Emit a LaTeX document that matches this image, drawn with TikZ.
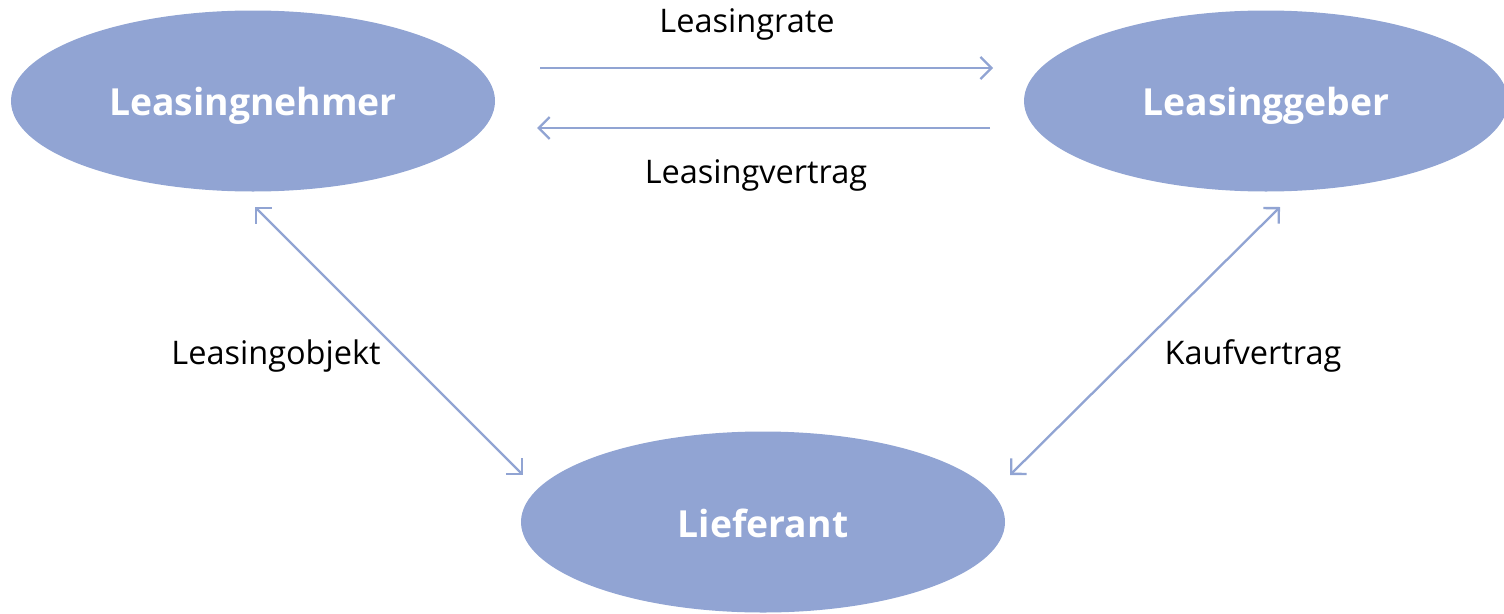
\documentclass[tikz,border=0pt]{standalone}
\usepackage{fontspec}
\setmainfont{Open Sans}
\usetikzlibrary{arrows.meta,shapes.geometric}
\definecolor{ell}{HTML}{91A4D3}
\definecolor{arr}{HTML}{91A4D3}
\newcommand{\basedown}[2]{\raisebox{-#1}[0pt][0pt]{#2}}
\begin{document}
\begin{tikzpicture}[x=1pt,y=-1pt,
  party/.style={ellipse,fill=ell,minimum width=484pt,minimum height=181pt,inner sep=0pt,text=white,font=\fontsize{37.3}{44}\selectfont\bfseries},
  lbl/.style={font=\fontsize{32.5}{38}\selectfont,text=black,inner sep=0pt},
  conn/.style={draw=arr,line width=2.3pt,{Straight Barb[length=11pt,width=22pt,line width=2.3pt]}-{Straight Barb[length=11pt,width=22pt,line width=2.3pt]}},
  oneway/.style={draw=arr,line width=2.3pt,-{Straight Barb[length=11pt,width=22pt,line width=2.3pt]}}]
\useasboundingbox (0,0) rectangle (1504,613);
\node[party] (nehmer) at (253,101) {\basedown{14pt}{Leasingnehmer}};
\node[party] (geber) at (1266,101) {\basedown{14pt}{Leasinggeber}};
\node[party] (lief) at (763,522) {\basedown{15pt}{Lieferant}};
\coordinate (t1) at (540,68);
\coordinate (t2) at (993,68);
\coordinate (b1) at (990,128);
\coordinate (b2) at (537,128);
\coordinate (l1) at (255,207);
\coordinate (l2) at (523,475);
\coordinate (r1) at (1280,207);
\coordinate (r2) at (1010,475);
\draw[oneway] (t1) -- (t2);
\draw[oneway] (b1) -- (b2);
\draw[conn] (l1) -- (l2);
\draw[conn] (r1) -- (r2);
\node[lbl] (rate) at (747,24) {Leasingrate};
\node[lbl] (vertrag) at (756,175) {Leasingvertrag};
\node[lbl] (objekt) at (276,356) {Leasingobjekt};
\node[lbl] (kauf) at (1253,356) {Kaufvertrag};
\end{tikzpicture}
\end{document}
